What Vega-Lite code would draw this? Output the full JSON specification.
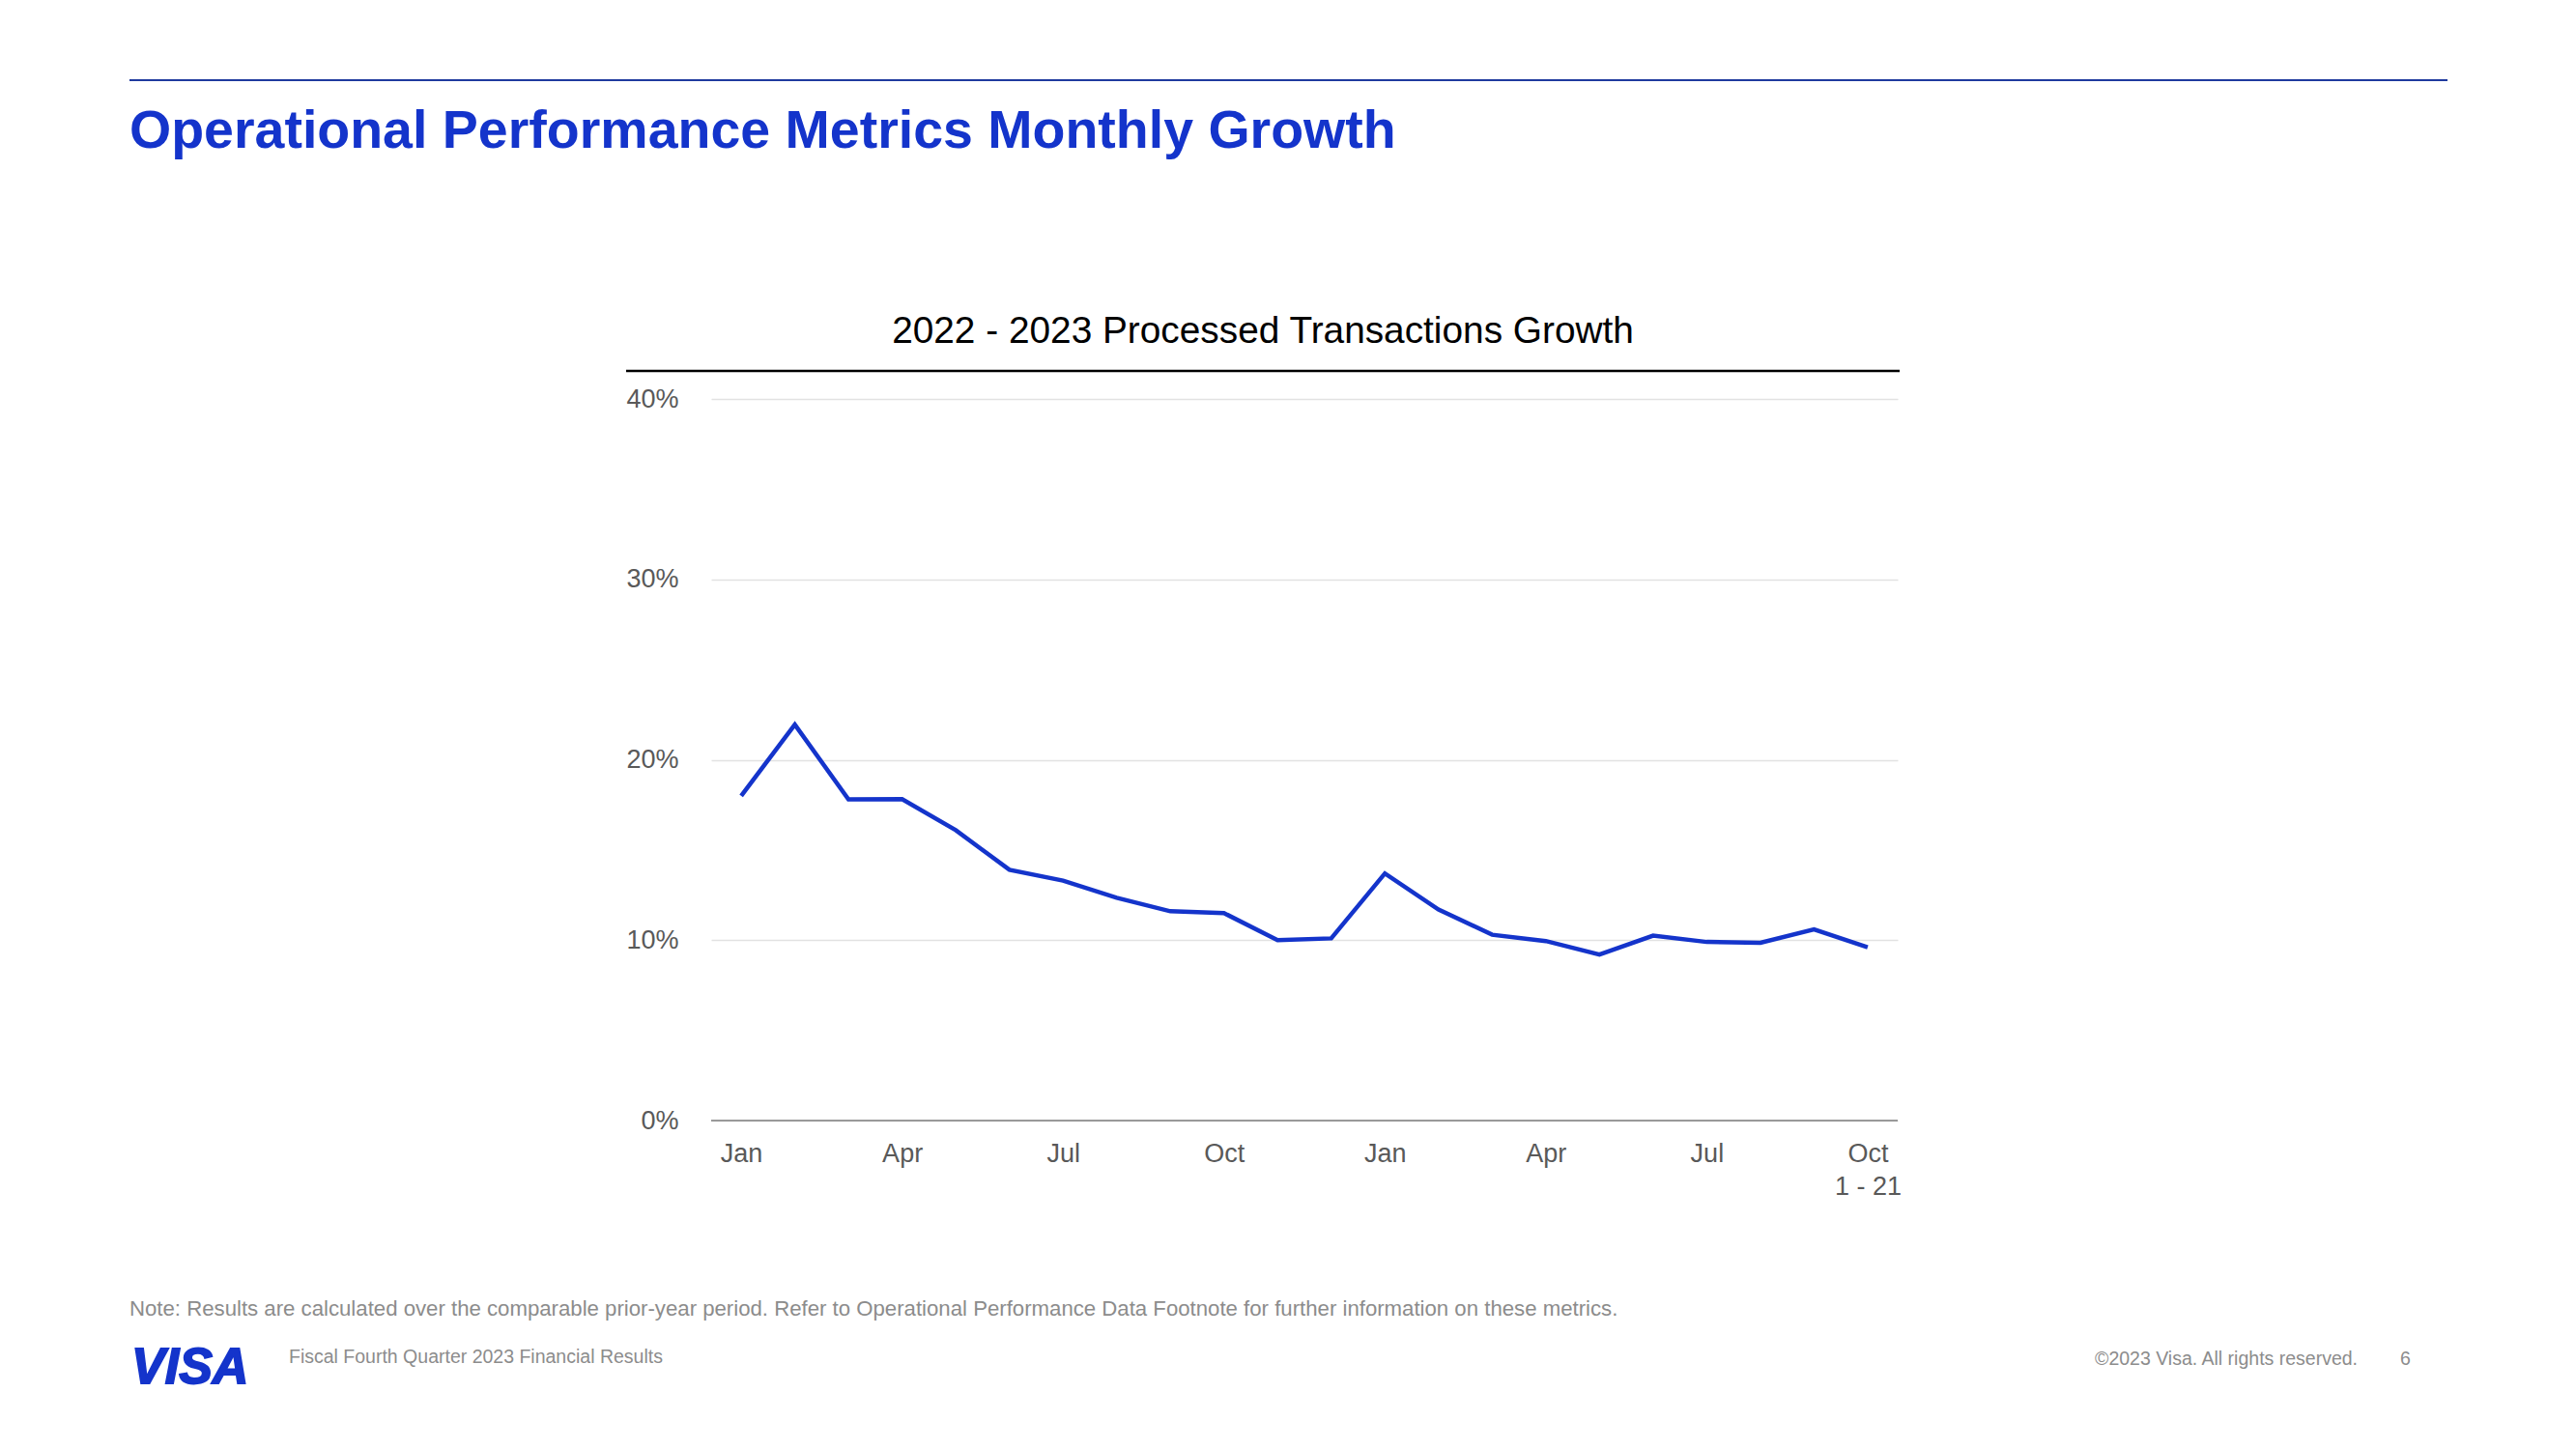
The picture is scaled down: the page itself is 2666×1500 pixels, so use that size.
{
  "$schema": "https://vega.github.io/schema/vega-lite/v6.json",
  "autosize": {"type": "none"},
  "width": 1228,
  "height": 747,
  "padding": {"left": 736, "top": 413, "right": 702, "bottom": 340},
  "background": "white",
  "config": {
    "font": "Liberation Sans",
    "view": {"stroke": null}
  },
  "layer": [
    {
      "data": {"name": "growth", "values": [
        {"month": "2022-01", "growth": 18.0},
        {"month": "2022-02", "growth": 21.95},
        {"month": "2022-03", "growth": 17.8},
        {"month": "2022-04", "growth": 17.82},
        {"month": "2022-05", "growth": 16.1},
        {"month": "2022-06", "growth": 13.9},
        {"month": "2022-07", "growth": 13.3},
        {"month": "2022-08", "growth": 12.35},
        {"month": "2022-09", "growth": 11.6},
        {"month": "2022-10", "growth": 11.5},
        {"month": "2022-11", "growth": 10.0},
        {"month": "2022-12", "growth": 10.1},
        {"month": "2023-01", "growth": 13.7},
        {"month": "2023-02", "growth": 11.7},
        {"month": "2023-03", "growth": 10.3},
        {"month": "2023-04", "growth": 9.95},
        {"month": "2023-05", "growth": 9.2},
        {"month": "2023-06", "growth": 10.25},
        {"month": "2023-07", "growth": 9.9},
        {"month": "2023-08", "growth": 9.85},
        {"month": "2023-09", "growth": 10.6},
        {"month": "2023-10", "growth": 9.6}
      ]},
      "mark": {"type": "line", "color": "#1434CB", "strokeWidth": 4.5, "strokeJoin": "miter"},
      "encoding": {
        "x": {
          "field": "month", "type": "ordinal", "sort": null,
          "scale": {"type": "point", "padding": 0.56},
          "axis": {
            "title": null, "domain": false, "ticks": false, "grid": false,
            "labelAngle": 0, "labelAlign": "center", "labelDx": -3,
            "values": ["2022-01", "2022-04", "2022-07", "2022-10", "2023-01", "2023-04", "2023-07", "2023-10"],
            "labelExpr": "datum.value == '2023-10' ? ['Oct', '1 - 21'] : (substring(datum.value, 5, 7) == '01' ? 'Jan' : substring(datum.value, 5, 7) == '04' ? 'Apr' : substring(datum.value, 5, 7) == '07' ? 'Jul' : 'Oct')",
            "labelFontSize": 27, "labelColor": "#595959", "labelPadding": 21, "labelLineHeight": 34
          }
        },
        "y": {
          "field": "growth", "type": "quantitative",
          "scale": {"domain": [0, 40], "nice": false},
          "axis": {
            "title": null, "domain": false, "ticks": false,
            "values": [0, 10, 20, 30, 40],
            "labelExpr": "datum.value + '%'",
            "labelFontSize": 27, "labelColor": "#595959", "labelPadding": 34, "labelDy": 2,
            "grid": true, "gridColor": "#e2e2e2", "gridWidth": 1.5
          }
        }
      }
    },
    {
      "data": {"values": [{"v": 0}]},
      "mark": {"type": "rule", "color": "#9a9a9a", "strokeWidth": 2},
      "encoding": {"y": {"field": "v", "type": "quantitative"}, "x": {"value": 0}, "x2": {"value": 1228}}
    },
    {
      "data": {"values": [{"k": "top"}]},
      "mark": {"type": "rule", "color": "#1f3a9e", "strokeWidth": 2},
      "encoding": {"x": {"value": -602}, "x2": {"value": 1797}, "y": {"value": -330}, "y2": {"value": -330}}
    },
    {
      "data": {"values": [{"k": "under"}]},
      "mark": {"type": "rule", "color": "#000000", "strokeWidth": 2.5},
      "encoding": {"x": {"value": -88}, "x2": {"value": 1230}, "y": {"value": -29}, "y2": {"value": -29}}
    },
    {
      "data": {"values": [{"label": "Operational Performance Metrics Monthly Growth"}]},
      "mark": {"type": "text", "x": -602, "y": -260, "align": "left", "baseline": "alphabetic", "fontSize": 55.5, "fontWeight": "bold", "color": "#1434CB"},
      "encoding": {"text": {"field": "label"}}
    },
    {
      "data": {"values": [{"label": "2022 - 2023 Processed Transactions Growth"}]},
      "mark": {"type": "text", "x": 571, "y": -58, "align": "center", "baseline": "alphabetic", "fontSize": 38.8, "color": "#000000"},
      "encoding": {"text": {"field": "label"}}
    },
    {
      "data": {"values": [{"label": "Note: Results are calculated over the comparable prior-year period. Refer to Operational Performance Data Footnote for further information on these metrics."}]},
      "mark": {"type": "text", "x": -602, "y": 949, "align": "left", "baseline": "alphabetic", "fontSize": 22.2, "color": "#8c8c8c"},
      "encoding": {"text": {"field": "label"}}
    },
    {
      "data": {"values": [{"label": "VISA"}]},
      "mark": {"type": "text", "x": -600, "y": 1019, "align": "left", "baseline": "alphabetic", "fontSize": 52, "fontWeight": "bold", "fontStyle": "italic", "color": "#1434CB", "stroke": "#1434CB", "strokeWidth": 1.8},
      "encoding": {"text": {"field": "label"}}
    },
    {
      "data": {"values": [{"label": "Fiscal Fourth Quarter 2023 Financial Results"}]},
      "mark": {"type": "text", "x": -437, "y": 998, "align": "left", "baseline": "alphabetic", "fontSize": 19.5, "color": "#8c8c8c"},
      "encoding": {"text": {"field": "label"}}
    },
    {
      "data": {"values": [{"label": "©2023 Visa. All rights reserved."}]},
      "mark": {"type": "text", "x": 1704, "y": 1000, "align": "right", "baseline": "alphabetic", "fontSize": 19.5, "color": "#8c8c8c"},
      "encoding": {"text": {"field": "label"}}
    },
    {
      "data": {"values": [{"label": "6"}]},
      "mark": {"type": "text", "x": 1748, "y": 1000, "align": "left", "baseline": "alphabetic", "fontSize": 19.5, "color": "#8c8c8c"},
      "encoding": {"text": {"field": "label"}}
    }
  ]
}
